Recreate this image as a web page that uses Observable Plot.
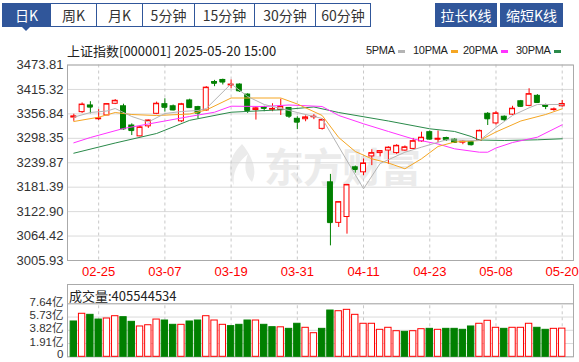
<!DOCTYPE html>
<html><head><meta charset="utf-8">
<script src="https://cdn.jsdelivr.net/npm/d3@7"></script>
<script src="https://cdn.jsdelivr.net/npm/@observablehq/plot@0.6"></script>
<style>
html,body{margin:0;padding:0;background:#fff;}
#wrap{position:relative;width:579px;height:362px;overflow:hidden;background:#fff;font-family:"Liberation Sans","Noto Sans CJK SC",sans-serif;color:#333;}
.tab{position:absolute;top:3px;height:22px;border:1px solid #30569a;background:#fff;color:#333;font-size:14px;line-height:22px;text-align:center;box-sizing:content-box;font-family:"Noto Sans CJK SC","Liberation Sans",sans-serif;}
.tab.sel{background:#30569a;color:#fff;}
.btn{position:absolute;top:3px;height:24px;background:#30569a;color:#fff;font-size:14px;line-height:24px;text-align:center;font-family:"Noto Sans CJK SC",sans-serif;}
.abs{position:absolute;}
</style></head>
<body><div id="wrap"></div>
<script>
// ---- data ----
const dates = ["02-20","02-21","02-24","02-25","02-26","02-27","02-28","03-03","03-04","03-05","03-06","03-07","03-10","03-11","03-12","03-13","03-14","03-17","03-18","03-19","03-20","03-21","03-24","03-25","03-26","03-27","03-28","03-31","04-01","04-02","04-03","04-07","04-08","04-09","04-10","04-11","04-14","04-15","04-16","04-17","04-18","04-21","04-22","04-23","04-24","04-25","04-28","04-29","04-30","05-06","05-07","05-08","05-09","05-12","05-13","05-14","05-15","05-16","05-19","05-20"];
const open  = [3348,3361,3377,3344,3353,3381,3375,3329,3303,3327,3357,3380,3375,3339,3389,3373,3365,3433,3438,3425,3427,3403,3366,3372,3367,3366,3371,3345,3344,3349,3321,3193,3096,3110,3229,3217,3255,3263,3269,3263,3269,3273,3291,3313,3295,3299,3295,3288,3289,3293,3357,3334,3350,3355,3387,3376,3400,3377,3366,3375];
const close = [3350.8,3379.1,3373.0,3346.0,3380.2,3388.1,3320.9,3316.9,3324.5,3341.0,3381.1,3372.6,3366.2,3379.8,3371.9,3358.7,3419.6,3430,3433,3427,3412,3364.8,3370.0,3370.0,3368.7,3373.8,3351.3,3337,3348.4,3350.1,3342.0,3096.6,3145.6,3186.8,3223.6,3238.2,3262.8,3267.7,3276.0,3280.3,3276.7,3291.4,3299.8,3296.4,3297.3,3295.1,3288.4,3290.5,3283,3316.1,3345,3358,3343,3369.2,3374.9,3404.0,3384,3374.5,3367.6,3380.5];
const high  = [3356,3383,3386,3367,3381,3391,3380,3333,3327,3342,3385,3393,3378,3382,3392,3375,3422,3437,3440,3438,3429,3405,3373,3375,3381,3392,3372,3350,3352,3355,3345,3212,3146,3188,3232,3249,3271,3268,3278,3283,3280,3298,3313,3316,3316,3301,3297,3293,3291,3318,3360,3363,3352,3375,3389,3417,3403,3380,3371,3389];
const low   = [3339,3358,3357,3341,3353,3379,3318,3305,3302,3322,3355,3361,3364,3336,3370,3345,3363,3422,3426,3417,3408,3358,3342,3362,3362,3353,3346,3319,3338,3343,3318,3041,3085,3069,3215,3209,3233,3254,3236,3260,3267,3271,3289,3294,3288,3291,3287,3283,3280,3292,3329,3330,3339,3353,3372,3374,3382,3367,3363,3373];
// volume in 亿
const volume = [5.09,6.2,6.05,5.37,5.52,5.85,5.71,5.04,4.37,4.55,5.37,5.23,4.61,4.61,5.09,5.23,5.85,5.23,4.61,4.42,4.61,5.23,5.23,4.61,4.27,4.25,4.03,4.76,4.18,3.4,4.03,6.67,6.57,6.77,6.05,4.76,4.76,3.89,4.18,3.69,3.6,3.69,3.98,4.03,3.89,4.03,4.03,3.89,4.37,4.76,5.19,4.18,4.03,4.18,4.18,4.76,4.18,3.89,4.03,4.06];
const volUp = [0,1,0,0,1,1,0,0,1,1, 1,0,0,1,0,0,1,1,1,0, 0,0,1,0,0,1,0,0,1,1, 0,0,1,1,1,1,1,1,1,1, 0,1,1,0,1,0,0,0,0,1, 1,1,0,1,1,1,0,0,1,1];
// moving averages: [candle index, value]
const ma5  = [[0,3348.9],[2,3360.1],[4,3363.7],[5,3369.7],[7,3350.6],[9,3337.4],[11,3357.7],[13,3362.5],[15,3364.9],[16,3369.7],[19,3428.8],[21,3398.4],[23,3379.3],[25,3369.7],[27,3360.1],[30,3345.8],[35,3177.5],[37,3238.1],[40,3265.1],[42,3277.1],[45,3294.8],[49,3293.1],[51,3324.2],[53,3353],[55,3371.4],[56,3379.3],[59,3379.3]];
const ma10 = [[0,3338.6],[3,3348.9],[5,3360.1],[7,3355.3],[10,3352.9],[14,3356.5],[16,3366.1],[19,3394.8],[25,3394.8],[27,3380.5],[30,3353],[32,3300.3],[34,3266.8],[36,3249.3],[38,3239.3],[40,3225.4],[42,3249.3],[44,3278.8],[46,3289.5],[49,3293.1],[51,3313.5],[54,3339.8],[57,3355.3],[59,3369]];
const ma20 = [[0,3287.6],[2,3300.3],[6,3321.9],[9,3332.6],[14,3350.6],[17,3360.8],[19,3375.2],[23,3374.5],[26,3378.1],[30,3374.5],[32,3353],[35,3333.1],[38,3314.7],[41,3296.7],[44,3284.7],[46,3273.2],[49,3265.1],[50,3265.1],[51,3275.2],[53,3288.3],[56,3301],[59,3330.7]];
const ma30 = [[0,3262.7],[5,3287.1],[10,3309.9],[14,3341.4],[19,3360.8],[25,3366.6],[29,3373.3],[32,3360.1],[38,3339.8],[43,3321.1],[46,3314.7],[48,3302.7],[49,3294.3],[52,3293.1],[56,3294.8],[59,3297.2]];
const yTicks = [3005.93,3064.42,3122.90,3181.39,3239.87,3298.35,3356.84,3415.32,3473.81];
const volTicks = [0,1.91,3.82,5.73,7.64];
const tickDates = ["02-25","03-07","03-19","03-31","04-11","04-23","05-08","05-20"];
const tabs = ["日K","周K","月K","5分钟","15分钟","30分钟","60分钟"];
const maNames = ["5PMA","10PMA","20PMA","30PMA"];
const maColors = ["#b4b4b4","#f5a623","#ff33ff","#2a8a4a"];

const RED = "#ff0000", GREEN = "#008000";
const candles = dates.map((d,i)=>({date:d,open:open[i],close:close[i],high:high[i],low:low[i],vol:volume[i],up:volUp[i]===1}));
const cColor = d => d.close >= d.open ? RED : GREEN;

const wrap = document.getElementById("wrap");
// tabs
const tabEdges = [2,50,96,142,194,254,315,370];
tabs.forEach((t,i)=>{
  const el = document.createElement("div");
  el.className = "tab" + (i===0?" sel":"");
  el.style.left = tabEdges[i]+"px";
  el.style.width = (tabEdges[i+1]-tabEdges[i]-1)+"px";
  el.textContent = t;
  wrap.appendChild(el);
});
const tri = document.createElement("div");
tri.className="abs";
tri.style.cssText="left:22px;top:27px;width:0;height:0;border-left:4px solid transparent;border-right:4px solid transparent;border-top:4px solid #30569a;";
wrap.appendChild(tri);
[["拉长K线",435,62],["缩短K线",500,63]].forEach(([t,l,w])=>{
  const el=document.createElement("div");el.className="btn";el.style.left=l+"px";el.style.width=w+"px";el.textContent=t;wrap.appendChild(el);
});
// title
const title=document.createElement("div");title.className="abs";
title.style.cssText="left:67px;top:41px;font-size:13px;color:#222;font-family:'Noto Sans CJK SC','Liberation Sans',sans-serif;white-space:nowrap;";
title.textContent="上证指数[000001] 2025-05-20 15:00";
wrap.appendChild(title);
// legend
const legX=[366,413,463,516];
maNames.forEach((n,i)=>{
  const el=document.createElement("div");el.className="abs";
  el.style.cssText=`left:${legX[i]}px;top:43px;font-size:11px;line-height:14px;color:#222;white-space:nowrap;font-family:'Liberation Sans',sans-serif;letter-spacing:-0.3px;`;
  el.innerHTML=`${n}<span style="display:inline-block;width:7px;height:3px;background:${maColors[i]};margin-left:3px;vertical-align:middle;"></span>`;
  wrap.appendChild(el);
});
// watermark
const wm=document.createElement("div");wm.className="abs";
wm.style.cssText="left:222px;top:136px;font-size:40px;font-weight:bold;color:#ebebeb;white-space:nowrap;font-family:'Noto Sans CJK SC',sans-serif;letter-spacing:-1px;";
wm.innerHTML=`<svg width="38" height="46" style="vertical-align:-6px;margin-right:4px" viewBox="0 0 38 46"><path d="M20 2 C8 14 4 26 12 44 C10 30 16 20 26 12 C22 22 22 32 30 40 C36 28 30 14 20 2Z" fill="#ebebeb"/></svg>东方财富`;
wrap.appendChild(wm);

const xScale = {type:"band", domain:dates, range:[67.53,567.5], padding:0.4, round:false, align:0.5};

const main = Plot.plot({
  width:579, height:282,
  marginLeft:67, marginRight:6, marginTop:64.5, marginBottom:22,
  style:{background:"transparent", fontFamily:"'Liberation Sans',sans-serif", fontSize:"13px", color:"#333"},
  x: xScale,
  y: {domain:[3005.93,3473.81]},
  marks:[
    Plot.gridY(yTicks,{stroke:"#dadada",strokeOpacity:1}),
    Plot.gridX(tickDates,{stroke:"#c8c8c8",strokeOpacity:1,strokeDasharray:"3,3"}),
    Plot.frame({stroke:"#aaaaaa"}),
    Plot.axisY(yTicks,{tickSize:0,tickPadding:4,tickFormat:d=>d.toFixed(2),fill:"#333",fontSize:13,label:null}),
    Plot.axisX(tickDates,{tickSize:0,tickPadding:6,fill:"#ff0000",fontSize:13,label:null}),
    Plot.ruleX(candles,{x:"date",y1:"low",y2:"high",stroke:cColor,strokeWidth:1}),
    Plot.barY(candles,{x:"date",y1:"open",y2:"close",fill:d=>d.close>=d.open?"#fff":GREEN,stroke:cColor,strokeWidth:1}),
    Plot.tickY(candles,{x:"date",y:"close",stroke:cColor,strokeWidth:1}),
    Plot.lineY(ma30,{x:d=>dates[d[0]],y:d=>d[1],stroke:maColors[3],strokeWidth:1}),
    Plot.lineY(ma20,{x:d=>dates[d[0]],y:d=>d[1],stroke:maColors[2],strokeWidth:1}),
    Plot.lineY(ma10,{x:d=>dates[d[0]],y:d=>d[1],stroke:maColors[1],strokeWidth:1}),
    Plot.lineY(ma5,{x:d=>dates[d[0]],y:d=>d[1],stroke:maColors[0],strokeWidth:1})
  ]
});
main.style.position="absolute";main.style.left="0";main.style.top="0";
wrap.appendChild(main);

const vol = Plot.plot({
  width:579, height:80,
  marginLeft:67, marginRight:6, marginTop:2, marginBottom:5.7,
  style:{background:"transparent", fontFamily:"'Liberation Sans','Noto Sans CJK SC',sans-serif", fontSize:"12px", color:"#333"},
  x: xScale,
  y: {domain:[0,10.42]},
  marks:[
    Plot.gridY(volTicks,{stroke:"#dadada",strokeOpacity:1}),
    Plot.ruleY([d3.max(volTicks)],{stroke:"#aaaaaa"}),
    Plot.ruleX(tickDates,{x:d=>d,y1:0,y2:d3.max(volTicks),stroke:"#c8c8c8",strokeDasharray:"3,3"}),
    Plot.frame({stroke:"#aaaaaa"}),
    Plot.axisY(volTicks.filter(v=>v>0),{tickSize:0,tickPadding:4,tickFormat:d=>d.toFixed(2)+"亿",fill:"#333",fontSize:11.5,dy:-1.5,label:null}),
    Plot.axisY([0],{tickSize:0,tickPadding:4,tickFormat:()=> "0",fill:"#333",fontSize:11.5,dy:-2.5,label:null}),
    Plot.axisX([], {label:null}),
    Plot.barY(candles,{x:"date",y:"vol",fill:d=>d.up?"#fff":GREEN,stroke:d=>d.up?RED:GREEN,strokeWidth:1,insetLeft:-0.7,insetRight:-0.7})
  ]
});
vol.style.position="absolute";vol.style.left="0";vol.style.top="282px";
wrap.appendChild(vol);
const vl=document.createElement("div");vl.className="abs";
vl.style.cssText="left:69px;top:286px;font-size:13px;color:#222;font-family:'Noto Sans CJK SC','Liberation Sans',sans-serif;white-space:nowrap;";
vl.textContent="成交量:405544534";
wrap.appendChild(vl);
</script></body></html>
